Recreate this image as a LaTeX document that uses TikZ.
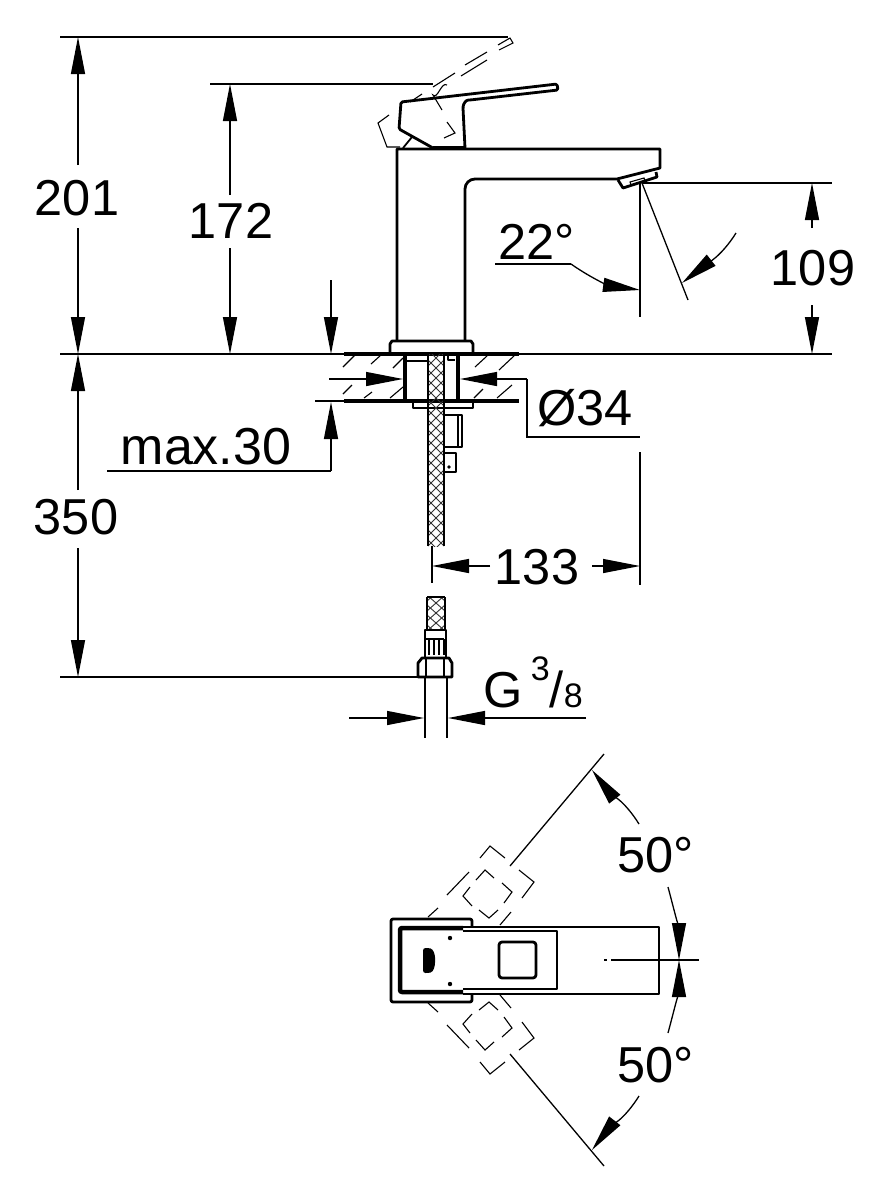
\documentclass[tikz,border=0pt]{standalone}
\usepackage{fontspec}
\setmainfont{Liberation Sans}
\usetikzlibrary{arrows.meta}
\tikzset{
	dimline/.style={line width=1.3pt},
	dimarrow/.style={dimline, -{Triangle[length=37pt,width=14pt]}},
	outline/.style={line width=2.8pt, line join=round},
	thinline/.style={line width=1.1pt},
	dimlabel/.style={inner sep=0pt, font=\fontsize{50.5}{52}\selectfont}
}
\newcommand{\leverghost}{
	\draw [thinline] (480,858) -- (490,846) -- (505,858);
	\draw [thinline] (519,870) -- (534,882) -- (522,898);
	\draw [thinline] (447,895) -- (469,872);
	\draw [thinline] (428,917) -- (438,908);
	\draw [thinline] (500,925) -- (511,912);
	\draw [thinline] (476,880) -- (485,870) -- (494,878);
	\draw [thinline] (502,883) -- (512,892) -- (504,903);
	\draw [thinline] (498,910) -- (489,918) -- (479,910);
	\draw [thinline] (472,906) -- (463,896) -- (470,887);
	\draw [dimline] (510,866) -- (604,754);
	\draw [dimarrow] (639,824) to[out=122, in=-52] (592,770);
	\draw [dimarrow] (668,887) to[out=-75, in=90] (679,960);
}
\begin{document}
\begin{tikzpicture}[x=1pt, y=-1pt]
	\useasboundingbox (0,0) rectangle (889,1200);
	% side view: dimension lines
	\draw [dimline] (60,37) -- (508,37);
	\draw [dimline] (210,84) -- (433,84);
	\draw [dimline] (60,354) -- (344,354);
	\draw [dimline] (519,354) -- (832,354);
	\draw [dimline] (60,677) -- (418,677);
	\draw [dimline] (642,183) -- (832,183);
	\draw [dimarrow] (78,165) -- (78,37);
	\draw [dimarrow] (78,228) -- (78,354);
	\draw [dimarrow] (78,490) -- (78,354);
	\draw [dimarrow] (78,548) -- (78,677);
	\draw [dimarrow] (230,195) -- (230,84);
	\draw [dimarrow] (230,248) -- (230,354);
	\draw [dimarrow] (331,280) -- (331,354);
	\draw [dimarrow] (331,471) -- (331,402);
	\draw [dimline] (107,471) -- (331,471);
	\draw [dimline] (315,401) -- (344,401);
	\draw [dimarrow] (812,228) -- (812,183);
	\draw [dimarrow] (812,305) -- (812,354);
	\draw [dimarrow] (329,379) -- (403,379);
	\draw [dimarrow] (527,379) -- (460,379);
	\draw [dimline] (527,379) -- (527,437) -- (640,437);
	\draw [dimline] (640,183) -- (640,317);
	\draw [dimline] (640,452) -- (640,585);
	\draw [dimline] (432,546) -- (432,583);
	\draw [dimarrow] (490,566) -- (432,566);
	\draw [dimarrow] (592,566) -- (640,566);
	\draw [dimline] (495,264) -- (571,264);
	\draw [dimarrow] (571,264) to[out=-35, in=172] (640,290);
	\draw [dimline] (642,183) -- (688,300);
	\draw [dimarrow] (736,233) to[out=-122, in=38] (682,283);
	\draw [dimarrow] (349,718) -- (424,718);
	\draw [dimarrow] (586,718) -- (448,718);
	% side view: tap body
	\draw [outline] (397,341) -- (397,149) -- (660,149) -- (660,168) -- (617,179) -- (475,179) to[out=180, in=90] (465,189) -- (465,341);
	\draw [outline] (618,180) -- (623,188) -- (657,177) -- (656,172);
	\draw [thinline] (630,182) -- (644,178) -- (645,181) -- (631,185) -- cycle;
	\draw [outline, rounded corners=1.5pt] (433,148) -- (399,129) -- (401,102) -- (557,84) -- (558,90) -- (470,100) to[out=180, in=85] (463,108) -- (465,148);
	\draw [outline, line width=3.4pt] (433,148) -- (465,148);
	\draw [outline, line width=1.8pt] (403,148) -- (412,137);
	% side view: raised lever, dashed by hand
	\draw [thinline] (433,87) -- (455,73);
	\draw [thinline] (465,65) -- (487,52);
	\draw [thinline] (498,45) -- (510,38) -- (513,43) -- (499,50);
	\draw [thinline] (487,60) -- (461,76);
	\draw [thinline] (447,85) to[out=145, in=-50] (433,95) -- (442,110);
	\draw [thinline] (410,102) -- (422,94);
	\draw [thinline] (389,115) -- (378,123) -- (387,147) -- (400,147);
	\draw [thinline] (447,122) -- (455,133) -- (444,138);
	% side view: deck and fixing
	\draw [outline] (390,354) -- (390,344) -- (392,341) -- (471,341) -- (473,344) -- (473,354);
	\draw [outline, line width=3.4pt] (344,354) -- (519,354);
	\draw [outline, line width=3.4pt] (344,401) -- (519,401);
	\foreach \xa/\ya/\xb/\yb in {343/367/355/355, 371/364/381/355, 393/368/403/358, 475/367/487/356, 499/370/515/355, 343/394/352/385, 364/398/372/392, 390/398/403/387, 474/398/483/389, 497/398/512/385}
		\draw [thinline] (\xa,\ya) -- (\xb,\yb);
	\draw [outline, line width=3.4pt] (405,354) -- (405,401);
	\draw [outline, line width=4pt] (458,354) -- (458,401);
	\draw [outline, line width=2pt] (405,361) -- (428,361);
	\draw [outline, line width=2pt] (448,355) -- (448,360) -- (455,360);
	\draw [outline] (413,401) -- (413,408) -- (473,408) -- (473,401);
	\draw [outline, line width=2.4pt] (445,415) -- (462,415) -- (462,447) -- (445,447);
	\draw [thinline] (458,415) -- (458,447);
	\draw [outline, line width=2.4pt] (445,453) -- (456,453) -- (456,472) -- (445,472);
	\fill (449,467) circle (1.8pt);
	% braided hose
	\begin{scope}
		\clip (428,354) rectangle (444,546);
		\foreach \s in {340,350,...,560} {
			\draw [line width=0.9pt, black!80] (428,\s) -- (444,\s+16);
			\draw [line width=0.9pt, black!80] (444,\s) -- (428,\s+16);
		}
	\end{scope}
	\draw [outline] (428,354) -- (428,546);
	\draw [outline] (444,354) -- (444,546);
	\begin{scope}
		\clip (427,597) rectangle (445,630);
		\foreach \s in {585,595,...,630} {
			\draw [line width=0.9pt, black!80] (427,\s) -- (445,\s+16);
			\draw [line width=0.9pt, black!80] (445,\s) -- (427,\s+16);
		}
	\end{scope}
	\draw [outline] (427,597) -- (427,630);
	\draw [outline] (445,597) -- (445,630);
	\draw [line width=1.8pt] (427,597) -- (445,597);
	% hose connection
	\draw [outline, line width=2.4pt] (425,658) -- (425,630) -- (446,630) -- (446,658);
	\draw [thinline] (429,639) -- (429,655);
	\draw [thinline] (434,639) -- (434,655);
	\draw [thinline] (439,639) -- (439,655);
	\draw [line width=1.8pt] (444,639) -- (444,655);
	\draw [line width=1.8pt] (426,639) -- (444,639);
	\draw [outline] (418,677) -- (418,663) -- (422,658) -- (449,658) -- (452,663) -- (452,677) -- cycle;
	\draw [thinline] (426,658) -- (426,677);
	\draw [thinline] (444,658) -- (444,677);
	\draw [dimline] (425,677) -- (425,738);
	\draw [dimline] (447,677) -- (447,738);
	% labels
	\node [dimlabel] (h201) at (77,198) {201};
	\node [dimlabel] (h172) at (231,221) {172};
	\node [dimlabel] (h350) at (76,517) {350};
	\node [dimlabel] (h109) at (813,268) {109};
	\node [dimlabel] (tilt) at (537,242) {22°};
	\node [dimlabel, font=\fontsize{52}{54}\selectfont] (deck) at (206,447) {max.30};
	\node [dimlabel] (bore) at (585,408) {Ø34};
	\node [dimlabel] (reach) at (537,567) {133};
	\node [dimlabel, anchor=base west] (thread) at (483,707) {G\,\raisebox{27pt}{\fontsize{34}{34}\selectfont 3}/\fontsize{34}{34}\selectfont 8};
	\node [dimlabel] (swingup) at (656,855) {50°};
	\node [dimlabel] (swingdown) at (656,1065) {50°};
	% top view
	\draw [outline, rounded corners=2pt] (472,926) -- (472,919) -- (391,919) -- (391,1002) -- (472,1002) -- (472,994);
	\draw [outline, line width=4.5pt, rounded corners=2pt] (463,928) -- (400,928) -- (400,992) -- (463,992);
	\draw [outline] (463,927) -- (659,927) -- (659,994) -- (463,994);
	\draw [outline] (463,931) -- (557,931) -- (557,989) -- (463,989);
	\draw [outline, rounded corners=3pt] (499,942) rectangle (536,978);
	\fill [rounded corners=2.5pt] (423,948) -- (428,948) to[out=-10, in=90] (435,960) to[out=-90, in=10] (428,973) -- (423,973) -- cycle;
	\fill (450,938) circle (2.2pt);
	\fill (450,984) circle (2.2pt);
	\draw [dimline] (611,960) -- (699,960);
	\draw [dimline] (604,960) -- (607,960);
	\leverghost
	\begin{scope}[shift={(0,1920)}, yscale=-1]
		\leverghost
	\end{scope}
\end{tikzpicture}
\end{document}
